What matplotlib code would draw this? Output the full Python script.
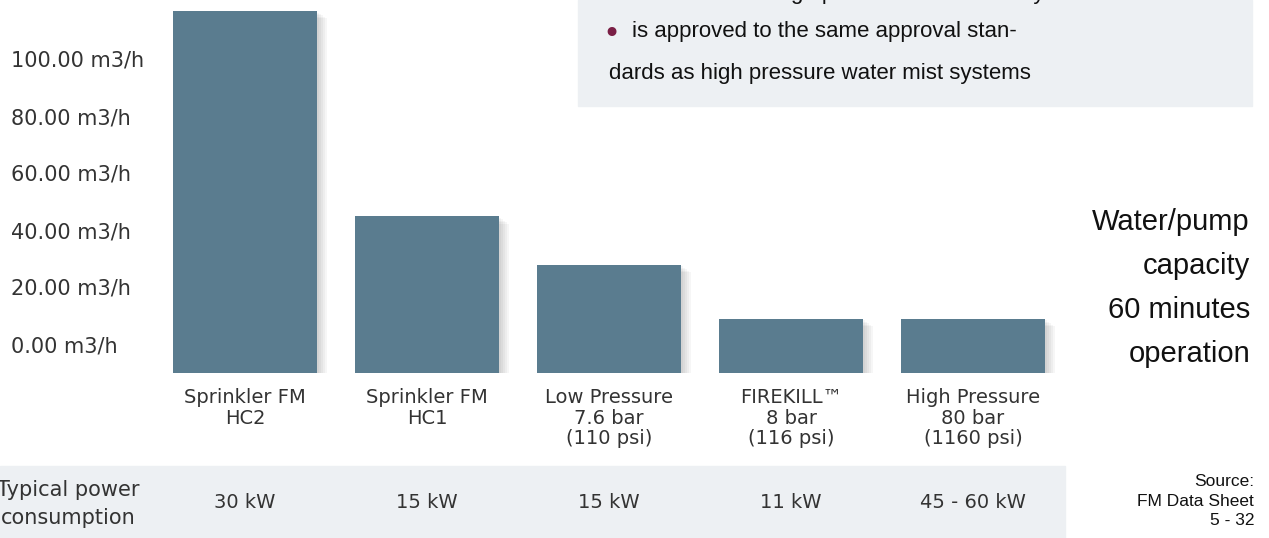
import matplotlib
matplotlib.use("Agg")
import matplotlib.pyplot as plt
import matplotlib.patheffects as pe
from matplotlib.patches import Rectangle
from matplotlib.transforms import ScaledTranslation, blended_transform_factory

# data
categories = ["Sprinkler FM\nHC2", "Sprinkler FM\nHC1", "Low Pressure\n7.6 bar\n(110 psi)",
              "FIREKILL\u2122\n8 bar\n(116 psi)", "High Pressure\n80 bar\n(1160 psi)"]
capacity = [127, 55, 38, 19, 19]          # m3/h, bars
power = ["30 kW", "15 kW", "15 kW", "11 kW", "45 - 60 kW"]
yticks = [0, 20, 40, 60, 80, 100]

bar_color = "#5a7c8f"
panel = "#edf0f3"
text_dark = "#333333"

fig = plt.figure(figsize=(12.69, 5.38), dpi=100)
W, H = 1269, 538

# light panels
fig.patches.append(Rectangle((578 / W, 1 - 106 / H), (1252 - 578) / W, 106 / H,
                             transform=fig.transFigure, color=panel, zorder=-1))
fig.patches.append(Rectangle((0, 0), 1065 / W, (H - 466) / H,
                             transform=fig.transFigure, color=panel, zorder=-1))

ax = fig.add_axes([154 / W, 165 / H, 910 / W, 373 / H])
ax.patch.set_alpha(0)
x = list(range(len(categories)))
bars = ax.bar(x, capacity, width=144 / 182, color=bar_color, zorder=3)
for b in bars:
    shadows = [pe.SimplePatchShadow(offset=(d, -0.7 * d), shadow_rgbFace="k", alpha=0.035)
               for d in (1.5, 3, 4.5, 6, 7.5)]
    b.set_path_effects(shadows + [pe.Normal()])

ax.set_xlim(-0.5, 4.5)
ax.set_ylim(0, 373 / 2.85)
for s in ax.spines.values():
    s.set_visible(False)

ax.set_yticks(yticks, [f"{v:.2f} m3/h" for v in yticks])
ax.tick_params(axis="y", length=0, pad=103, labelsize=15, labelcolor=text_dark)
shift = ScaledTranslation(0, 0.29, fig.dpi_scale_trans)
for lab in ax.get_yticklabels():
    lab.set_horizontalalignment("left")
    lab.set_transform(lab.get_transform() + shift)

ax.set_xticks(x, categories)
ax.tick_params(axis="x", length=0, pad=11, labelsize=14, labelcolor=text_dark)
for lab in ax.get_xticklabels():
    lab.set_linespacing(1.1)

# power consumption row
row = blended_transform_factory(ax.transData, fig.transFigure)
for xi, p in zip(x, power):
    ax.text(xi, 1 - 503 / H, p, transform=row, ha="center", va="center",
            fontsize=14, color=text_dark, clip_on=False)
fig.text(68 / W, 1 - 504 / H, "Typical power\nconsumption", ha="center", va="center",
         fontsize=15, color=text_dark, linespacing=1.5)

# right side note
fig.text(1250 / W, 1 - 288 / H, "Water/pump\ncapacity\n60 minutes\noperation",
         ha="right", va="center", fontsize=21, color="#111111",
         family="Liberation Sans", linespacing=1.72)
fig.text(1254 / W, 1 - 501 / H, "Source:\nFM Data Sheet\n5 - 32", ha="right", va="center",
         fontsize=12.5, color="#111111", family="Liberation Sans", linespacing=1.35)

# bullet box text (top line cut by the page edge)
box_font = dict(fontsize=16, color="#111111", family="Liberation Sans")
fig.text(609 / W, 1 + 7 / H, "is as efficient as high pressure water mist systems",
         ha="left", va="center", **box_font)
fig.text(611 / W, 1 - 34 / H, "\u2022", ha="center", va="center",
         fontsize=22, color="#7a1f45")
fig.text(632 / W, 1 - 32 / H, "is approved to the same approval stan-",
         ha="left", va="center", **box_font)
fig.text(609 / W, 1 - 74 / H, "dards as high pressure water mist systems",
         ha="left", va="center", **box_font)

fig.savefig("out.png", dpi=100)
